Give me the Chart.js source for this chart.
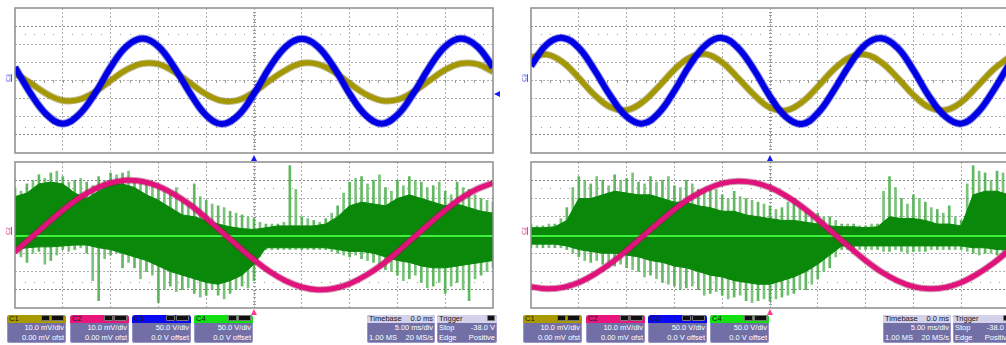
<!DOCTYPE html>
<html>
<head>
<meta charset="utf-8">
<script src="https://cdn.jsdelivr.net/npm/chart.js@4.4.0/dist/chart.umd.min.js"></script>
<style>
html, body { margin: 0; padding: 0; background: #fff; width: 1006px; height: 345px; overflow: hidden; position: relative; }
canvas { position: absolute; }
.box { position: absolute; top: 315px; height: 28px; background: #716fa6; border-radius: 3px; color: #fff;
       font: 7.5px "Liberation Sans", Arial, sans-serif; overflow: hidden; box-shadow: inset 0 0 0 1px #9896c6; }
.hd { height: 8px; line-height: 8.5px; padding: 0 2px; color: #151515; position: relative; border-radius: 3px 3px 0 0; }
.hd .r { position: absolute; right: 2px; top: 0; }
.ln { height: 10px; line-height: 10px; padding: 0 2px; position: relative; text-align: right; }
.ln .l { position: absolute; left: 2px; }
.ico { display: inline-block; background: #111; border: 1px solid #777; height: 4px; margin-left: 1px; vertical-align: 1px; border-radius: 1px; }
.lbl { position: absolute; font: 6px "Liberation Sans", Arial, sans-serif; transform: rotate(-90deg); text-decoration: underline; }
.tri-up { position: absolute; width: 0; height: 0; border-left: 3px solid transparent; border-right: 3px solid transparent; border-bottom: 6px solid; }
.tri-left { position: absolute; width: 0; height: 0; border-top: 3px solid transparent; border-bottom: 3px solid transparent; border-right: 6px solid #1a1aff; }
</style>
</head>
<body>
<canvas id="lTop" width="480" height="147" style="left:14px;top:7px"></canvas>
<canvas id="lBot" width="480" height="148" style="left:14px;top:161px"></canvas>
<canvas id="rTop" width="480" height="147" style="left:530px;top:7px"></canvas>
<canvas id="rBot" width="480" height="148" style="left:530px;top:161px"></canvas>
<div id="decor"></div>
<script>
// time in divisions (5 ms/div), 0 = left edge of screen
const traceTime = [0, 0.33, 0.67, 1, 1.33, 1.67, 2, 2.33, 2.67, 3, 3.33, 3.67, 4, 4.33, 4.67, 5,
                   5.33, 5.67, 6, 6.33, 6.67, 7, 7.33, 7.67, 8, 8.33, 8.67, 9, 9.33, 9.67, 10];
const envTime = [0, 0.25, 0.5, 0.75, 1, 1.25, 1.5, 1.75, 2, 2.25, 2.5, 2.75, 3, 3.25, 3.5, 3.75, 4,
                 4.25, 4.5, 4.75, 5, 5.25, 5.5, 5.75, 6, 6.25, 6.5, 6.75, 7, 7.25, 7.5, 7.75, 8,
                 8.25, 8.5, 8.75, 9, 9.25, 9.5, 9.75, 10];
const spikeTime = [0.125, 0.375, 0.625, 0.875, 1.125, 1.375, 1.625, 1.875, 2.125, 2.375, 2.625, 2.875,
                   3.125, 3.375, 3.625, 3.875, 4.125, 4.375, 4.625, 4.875, 5.125, 5.375, 5.625, 5.875,
                   6.125, 6.375, 6.625, 6.875, 7.125, 7.375, 7.625, 7.875, 8.125, 8.375, 8.625, 8.875,
                   9.125, 9.375, 9.625, 9.875];

// left screen, values in divisions
const leftC1 = [0.40, -0.15, -0.75, -1.10, -1.06, -0.64, -0.01, 0.59, 0.94, 0.90,
                0.48, -0.15, -0.76, -1.12, -1.08, -0.64, 0.00, 0.58, 0.95, 0.90,
                0.48, -0.16, -0.75, -1.10, -1.06, -0.63, -0.01, 0.59, 0.94, 0.90, 0.48];
const leftC3 = [0.73, -0.73, -1.90, -2.38, -1.90, -0.73, 0.73, 1.88, 2.32, 1.88,
                0.73, -0.73, -1.92, -2.40, -1.92, -0.73, 0.73, 1.88, 2.30, 1.88,
                0.73, -0.73, -1.90, -2.38, -1.90, -0.73, 0.73, 1.88, 2.32, 1.88, 0.73];
const leftC2 = [-0.93, -0.16, 0.62, 1.36, 2.01, 2.52, 2.85, 3.00, 2.93, 2.67, 2.23, 1.64, 0.93, 0.16,
                -0.62, -1.36, -2.01, -2.52, -2.85, -3.00, -2.93, -2.67, -2.23, -1.64, -0.93, -0.16,
                0.62, 1.36, 2.01, 2.52, 2.85];
const leftC4SpikeHi = [2.6, 2.8, 3.3, 3.4, 3.2, 3.0, 2.9, 3.2, 3.4, 3.4, 3.1, 2.9, 2.6, 2.3, 2.0, 2.8,
                       1.9, 1.6, 1.3, 1.1, 0.9, 0.6, 0.6, 3.8, 1.0, 0.8, 0.9, 1.6, 2.9, 3.2, 3.0, 2.6,
                       3.0, 3.2, 2.9, 2.7, 2.4, 2.9, 2.5, 2.0, 1.8];
const leftC4SpikeHi2 = [2.4, 3.0, 3.1, 3.5, 2.9, 3.1, 2.7, 3.0, 3.3, 3.5, 3.0, 2.7, 2.4, 2.6, 1.8, 2.1,
                        1.7, 1.5, 1.2, 1.0, 0.7, 0.6, 0.7, 2.5, 0.9, 0.7, 1.2, 2.3, 3.1, 2.8, 3.3, 2.4,
                        2.7, 3.0, 2.6, 2.9, 2.2, 2.6, 2.2, 1.9];
const leftC4CoreHi = [2.1, 2.3, 2.8, 2.9, 2.8, 2.3, 2.0, 2.4, 2.8, 2.8, 2.6, 2.2, 1.9, 1.5, 1.1, 1.0,
                      0.8, 0.6, 0.45, 0.35, 0.3, 0.4, 0.5, 0.5, 0.5, 0.5, 0.6, 1.0, 1.6, 1.8, 1.7, 1.6,
                      2.0, 2.2, 2.0, 1.8, 1.6, 1.7, 1.5, 1.3, 1.2];
const leftC4CoreLo = [-0.8, -0.7, -0.65, -0.65, -0.6, -0.55, -0.55, -0.7, -0.8, -1.0, -1.2, -1.4, -1.7,
                      -2.0, -2.2, -2.4, -2.6, -2.7, -2.5, -2.2, -1.6, -0.7, -0.7, -0.7, -0.7, -0.7,
                      -0.7, -0.8, -0.9, -0.9, -1.0, -1.2, -1.4, -1.5, -1.7, -1.8, -1.8, -1.7, -1.6,
                      -1.5, -1.4];
const leftC4SpikeLo = [-1.0, -1.5, -0.9, -1.4, -0.8, -0.8, -1.0, -3.6, -1.1, -1.8, -1.8, -2.0, -3.7,
                       -2.8, -3.0, -3.2, -3.3, -3.3, -3.2, -2.8, -2.5, -0.8, -0.8, -0.8, -0.8, -0.8,
                       -0.8, -1.0, -1.2, -1.3, -1.5, -1.9, -2.2, -2.4, -2.6, -2.8, -3.2, -2.6, -3.6,
                       -2.2, -1.8];
const leftC4SpikeLo2 = [-1.2, -1.0, -1.6, -1.1, -0.9, -0.7, -2.5, -1.3, -1.0, -1.5, -2.4, -2.2, -3.0,
                        -3.1, -2.9, -3.4, -3.0, -3.5, -3.0, -2.9, -1.2, -0.8, -0.8, -0.8, -0.8, -0.8,
                        -0.9, -1.1, -1.1, -1.4, -1.7, -2.0, -2.5, -2.2, -2.9, -2.6, -2.8, -3.0, -2.4,
                        -2.0];

// right screen, values in divisions
const rightC1 = [1.28, 1.43, 1.00, 0.14, -0.80, -1.48, -1.63, -1.20, -0.34, 0.60,
                 1.28, 1.45, 1.00, 0.14, -0.80, -1.50, -1.65, -1.20, -0.34, 0.60,
                 1.28, 1.43, 1.00, 0.14, -0.80, -1.48, -1.63, -1.20, -0.34, 0.60, 1.28];
const rightC3 = [0.80, 1.99, 2.35, 1.80, 0.57, -0.88, -1.99, -2.38, -1.80, -0.57,
                 0.88, 1.99, 2.35, 1.80, 0.57, -0.88, -2.00, -2.40, -1.80, -0.57,
                 0.88, 1.99, 2.33, 1.80, 0.57, -0.88, -1.99, -2.38, -1.80, -0.57, 0.88];
const rightC2 = [-2.83, -2.95, -2.87, -2.60, -2.15, -1.55, -0.85, -0.09, 0.68, 1.40, 2.02, 2.51, 2.83,
                 2.95, 2.87, 2.60, 2.15, 1.55, 0.85, 0.09, -0.68, -1.40, -2.02, -2.51, -2.83, -2.95,
                 -2.87, -2.60, -2.15, -1.55, -0.85];
const rightC4SpikeHi = [0.6, 0.5, 0.6, 1.5, 3.2, 2.8, 3.0, 3.3, 3.1, 2.9, 3.2, 3.0, 2.7, 3.0, 2.5, 2.6,
                        2.2, 2.4, 2.0, 1.8, 1.6, 1.5, 2.0, 1.3, 1.2, 1.0, 0.6, 0.6, 0.5, 0.6, 3.2, 2.0,
                        2.2, 1.8, 1.4, 1.6, 0.8, 3.8, 3.4, 3.5, 3.2];
const rightC4SpikeHi2 = [0.5, 0.6, 0.9, 2.6, 3.0, 3.2, 2.7, 3.0, 3.4, 2.8, 2.9, 3.2, 2.6, 2.8, 2.3, 2.5,
                         2.0, 2.1, 1.9, 1.7, 1.4, 1.8, 1.5, 1.2, 1.0, 0.8, 0.6, 0.5, 0.6, 2.4, 2.6, 1.7,
                         2.0, 1.5, 1.2, 1.0, 2.8, 3.5, 3.0, 3.4];
const rightC4CoreHi = [0.4, 0.4, 0.45, 0.8, 2.0, 2.0, 2.2, 2.4, 2.3, 2.2, 2.2, 2.0, 1.8, 1.8, 1.6, 1.5,
                       1.3, 1.3, 1.1, 1.0, 0.9, 0.8, 0.8, 0.7, 0.6, 0.5, 0.45, 0.45, 0.4, 0.45, 1.0,
                       0.9, 0.9, 0.8, 0.6, 0.6, 0.5, 2.2, 2.4, 2.4, 2.2];
const rightC4CoreLo = [-0.5, -0.5, -0.5, -0.6, -0.8, -0.9, -1.0, -1.0, -1.1, -1.2, -1.4, -1.5, -1.7,
                       -1.8, -2.0, -2.2, -2.3, -2.5, -2.6, -2.7, -2.7, -2.5, -2.3, -2.0, -1.6, -1.1,
                       -0.6, -0.6, -0.6, -0.6, -0.6, -0.6, -0.6, -0.6, -0.6, -0.6, -0.6, -0.7, -0.7,
                       -0.8, -0.8];
const rightC4SpikeLo = [-0.7, -0.7, -0.7, -0.8, -1.2, -1.5, -1.6, -1.7, -1.8, -2.0, -2.2, -2.6, -2.8,
                        -2.9, -3.0, -3.2, -3.3, -3.4, -3.6, -3.6, -3.6, -3.4, -3.2, -3.0, -2.4, -1.8,
                        -0.8, -0.8, -0.8, -0.8, -0.9, -0.9, -0.9, -0.9, -0.8, -0.8, -0.8, -1.0, -1.0,
                        -1.1, -1.1];
const rightC4SpikeLo2 = [-0.7, -0.7, -0.7, -1.0, -1.4, -1.4, -1.8, -1.6, -1.9, -2.3, -2.4, -2.7, -3.0,
                         -2.8, -3.3, -3.1, -3.5, -3.3, -3.7, -3.5, -3.5, -3.3, -3.0, -2.7, -2.0, -1.2,
                         -0.8, -0.8, -0.8, -0.9, -0.8, -1.0, -0.9, -0.8, -0.8, -0.8, -0.9, -1.1, -1.0,
                         -1.2];

// C4 switching level sits on the zero line
const c4ZeroTime = [0, 10];
const c4ZeroLevel = [-0.05, -0.05];

const zip = (xs, ys) => xs.map((x, i) => ({ x: x, y: ys[i] }));
const span = (xs, lo, hi) => xs.map((x, i) => ({ x: x, y: [lo[i], hi[i]] }));

// frame, tick marks along the centre axes and the dotted rows
const scopeFrame = {
    id: 'scopeFrame',
    beforeDatasetsDraw(chart) {
        const { ctx, scales: { x, y } } = chart;
        ctx.save();
        ctx.fillStyle = '#9a9a9a';
        for (const lvl of [2.55, -2.55]) {
            const py = Math.round(y.getPixelForValue(lvl));
            for (let k = 1; k < 50; k++) {
                if (k % 5 === 0) continue;
                ctx.fillRect(Math.round(x.getPixelForValue(k / 5)), py, 1, 1);
            }
        }
        const cy = Math.round(y.getPixelForValue(0));
        const cx = Math.round(x.getPixelForValue(5));
        for (let k = 1; k < 50; k++) ctx.fillRect(Math.round(x.getPixelForValue(k / 5)), cy - 1, 1, 3);
        for (let k = -19; k < 20; k++) ctx.fillRect(cx - 1, Math.round(y.getPixelForValue(k / 5)), 3, 1);
        ctx.restore();
    },
    afterDraw(chart) {
        const { ctx, chartArea: a } = chart;
        ctx.save();
        ctx.strokeStyle = '#8c8c8c';
        ctx.lineWidth = 1.5;
        ctx.strokeRect(a.left, a.top, a.right - a.left, a.bottom - a.top);
        ctx.restore();
    }
};

function gridColor(edge, strong) {
    return ctx => {
        const v = ctx.tick.value;
        if (Math.abs(v) === edge || v === 0 && edge === 10) return 'rgba(0,0,0,0)';
        if (strong.includes(v)) return 'rgba(120,120,120,0.9)';
        return 'rgba(160,160,160,0.85)';
    };
}

function baseOptions() {
    return {
        responsive: false,
        animation: false,
        devicePixelRatio: 1,
        events: [],
        layout: { padding: 1 },
        plugins: { legend: { display: false }, tooltip: { enabled: false } },
        elements: { point: { radius: 0 }, line: { tension: 0.4 } },
        scales: {
            x: {
                type: 'linear', min: 0, max: 10, offset: false,
                ticks: { display: false, stepSize: 1 },
                grid: { color: gridColor(10, []), drawTicks: false, offset: false, lineWidth: 1 },
                border: { display: false, dash: [2, 2] }
            },
            y: {
                type: 'linear', min: -4, max: 4,
                ticks: { display: false, stepSize: 1 },
                grid: { color: gridColor(4, [3, -3]), drawTicks: false, lineWidth: 1 },
                border: { display: false, dash: [2, 2] }
            }
        }
    };
}

function topPanel(id, c1, c3) {
    new Chart(document.getElementById(id), {
        type: 'line',
        data: {
            datasets: [
                { data: zip(traceTime, c3), borderColor: '#0000e4', borderWidth: 6, order: 1 },
                { data: zip(traceTime, c3), borderColor: 'rgba(0,0,190,0.4)', borderWidth: 8, order: 2 },
                { data: zip(traceTime, c1), borderColor: '#a49800', borderWidth: 5, order: 3 },
                { data: zip(traceTime, c1), borderColor: 'rgba(110,100,0,0.45)', borderWidth: 7, order: 4 }
            ]
        },
        options: baseOptions(),
        plugins: [scopeFrame]
    });
}

function bottomPanel(id, c2, spikeHi, spikeHi2, coreHi, coreLo, spikeLo, spikeLo2) {
    new Chart(document.getElementById(id), {
        type: 'line',
        data: {
            datasets: [
                { data: zip(traceTime, c2), borderColor: '#e0127c', borderWidth: 5, order: 0 },
                { data: zip(traceTime, c2), borderColor: 'rgba(150,10,70,0.4)', borderWidth: 7, order: 1 },
                { data: zip(c4ZeroTime, c4ZeroLevel), borderColor: '#3cf03c', borderWidth: 2, tension: 0, order: 2 },
                { data: zip(envTime, coreLo), borderColor: '#0a880a', borderWidth: 1, tension: 0, fill: false, order: 4 },
                { data: zip(envTime, coreHi), borderColor: '#0a880a', borderWidth: 1, tension: 0,
                  backgroundColor: '#0a880a', fill: '-1', order: 3 },
                { type: 'bar', data: span(envTime, spikeLo, spikeHi),
                  backgroundColor: 'rgba(70,170,70,0.85)', barThickness: 2, grouped: false, order: 5 },
                { type: 'bar', data: span(spikeTime, spikeLo2, spikeHi2),
                  backgroundColor: 'rgba(90,180,90,0.8)', barThickness: 2, grouped: false, order: 6 }
            ]
        },
        options: baseOptions(),
        plugins: [scopeFrame]
    });
}

topPanel('lTop', leftC1, leftC3);
bottomPanel('lBot', leftC2, leftC4SpikeHi, leftC4SpikeHi2, leftC4CoreHi, leftC4CoreLo, leftC4SpikeLo, leftC4SpikeLo2);
topPanel('rTop', rightC1, rightC3);
bottomPanel('rBot', rightC2, rightC4SpikeHi, rightC4SpikeHi2, rightC4CoreHi, rightC4CoreLo, rightC4SpikeLo, rightC4SpikeLo2);

// channel / timebase / trigger boxes under each screen
const channels = [
    { name: 'C1', color: '#a89a00', scale: '10.0 mV/div', ofs: '0.00 mV ofst', left: 7 },
    { name: 'C2', color: '#e8157d', scale: '10.0 mV/div', ofs: '0.00 mV ofst', left: 70 },
    { name: 'C3', color: '#0a0af0', scale: '50.0 V/div', ofs: '0.0 V offset', left: 132 },
    { name: 'C4', color: '#12e012', scale: '50.0 V/div', ofs: '0.0 V offset', left: 194 }
];
const screenOffsets = [0, 516];

let html = '';
for (const dx of screenOffsets) {
    for (const c of channels) {
        html += `<div class="box" style="left:${c.left + dx}px;width:59px">
            <div class="hd" style="background:${c.color}">${c.name}<span class="r"><span class="ico" style="width:7px"></span><span class="ico" style="width:11px"></span></span></div>
            <div class="ln">${c.scale}</div><div class="ln">${c.ofs}</div></div>`;
    }
    html += `<div class="box" style="left:${367 + dx}px;width:68px">
        <div class="hd" style="background:#d4d2ea">Timebase<span class="r">0.0 ms</span></div>
        <div class="ln">5.00 ms/div</div><div class="ln"><span class="l">1.00 MS</span>20 MS/s</div></div>`;
    html += `<div class="box" style="left:${437 + dx}px;width:60px">
        <div class="hd" style="background:#d4d2ea">Trigger<span class="r"><span class="ico" style="width:6px"></span></span></div>
        <div class="ln"><span class="l">Stop</span>-38.0 V</div><div class="ln"><span class="l">Edge</span>Positive</div></div>`;
    html += `<div class="lbl" style="left:${4 + dx}px;top:75px;color:#3030ff">C3</div>`;
    html += `<div class="lbl" style="left:${4 + dx}px;top:228px;color:#e0127c">C2</div>`;
    html += `<div class="tri-up" style="left:${251 + dx}px;top:155px;border-bottom-color:#1a1aff"></div>`;
    html += `<div class="tri-up" style="left:${251 + dx}px;top:309px;border-bottom-color:#ff3a8a"></div>`;
    html += `<div class="tri-left" style="left:${494 + dx}px;top:91px"></div>`;
}
document.getElementById('decor').innerHTML = html;
</script>
</body>
</html>
